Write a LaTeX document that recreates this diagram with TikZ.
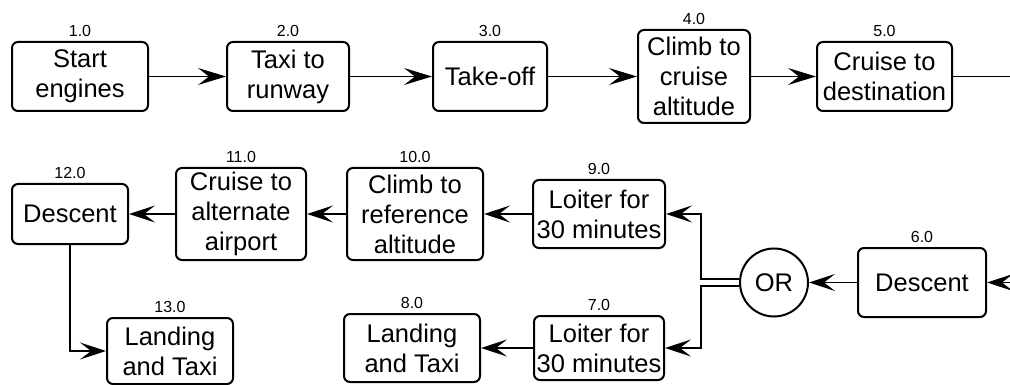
\documentclass[tikz,border=0pt]{standalone}
\usepackage{fontspec}
\setmainfont{Liberation Sans}
\usetikzlibrary{arrows.meta}

\begin{document}
\begin{tikzpicture}[x=1pt,y=-1pt,
  task/.style={shape=rectangle, rounded corners=6pt, draw, line width=2pt, align=center, inner sep=0pt, font=\fontsize{25.5}{30}\selectfont},
  num/.style={font=\fontsize{16}{18}\selectfont, inner sep=0pt, label distance=4pt},
  flow/.style={-{Stealth[length=28pt,width=17pt,inset=11pt]}, line width=1.6pt},
  alt/.style={-{Stealth[length=26pt,width=17pt,inset=11pt]}, line width=1.3pt}]
\useasboundingbox (0,0) rectangle (1010,385);

% outbound leg
\node [task, minimum width=136pt, minimum height=69pt, label={[num]above:1.0}] (start) at (80,76.5) {Start\\engines};
\node [task, minimum width=122pt, minimum height=69pt, label={[num]above:2.0}] (taxi) at (288,76.5) {Taxi to\\runway};
\node [task, minimum width=114pt, minimum height=69pt, label={[num]above:3.0}] (takeoff) at (490,76.5) {Take-off};
\node [task, minimum width=112pt, minimum height=93pt, label={[num]above:4.0}] (climb) at (694,76.5) {Climb to\\cruise\\altitude};
\node [task, minimum width=135pt, minimum height=69pt, label={[num]above:5.0}] (cruise) at (884.5,76.5) {Cruise to\\destination};
\coordinate (exit) at (1010,76.5);

% reserve leg
\node [task, minimum width=128pt, minimum height=69pt, label={[num]above:6.0}] (descent) at (922,282.5) {Descent};
\node [shape=circle, draw, line width=2pt, minimum size=68pt, inner sep=0pt, font=\fontsize{25.5}{30}\selectfont] (or) at (774,282.5) {OR};
\node [task, minimum width=132pt, minimum height=68pt, label={[num]above:9.0}] (loiterA) at (599,214) {Loiter for\\30 minutes};
\node [task, minimum width=130pt, minimum height=64pt, label={[num]above:7.0}] (loiterB) at (599,348) {Loiter for\\30 minutes};
\node [task, minimum width=136pt, minimum height=68pt, label={[num]above:8.0}] (land) at (412,348) {Landing\\and Taxi};
\node [task, minimum width=136pt, minimum height=92pt, label={[num]above:10.0}] (climbref) at (415,214) {Climb to\\reference\\altitude};
\node [task, minimum width=130pt, minimum height=92pt, label={[num]above:11.0}] (cruisealt) at (241,214) {Cruise to\\alternate\\airport};
\node [task, minimum width=116pt, minimum height=60pt, label={[num]above:12.0}] (descalt) at (70,214) {Descent};
\node [task, minimum width=126pt, minimum height=66pt, label={[num]above:13.0}] (landalt) at (170,351) {Landing\\and Taxi};
\coordinate (entry) at (1010,282.5);

\draw[flow] (start) -- (taxi);
\draw[flow] (taxi) -- (takeoff);
\draw[flow] (takeoff) -- (climb);
\draw[flow] (climb) -- (cruise);
\draw[line width=1.6pt] (cruise) -- (exit);
\draw[alt] (entry) -- (descent);
\draw[alt] (descent) -- (or);
\draw[alt] ([yshift=3.5pt]or.west) -- ++(-38,0) |- (loiterA);
\draw[alt] ([yshift=-3.5pt]or.west) -- ++(-38,0) |- (loiterB);
\draw[alt] (loiterA) -- (climbref);
\draw[alt] (climbref) -- (cruisealt);
\draw[alt] (cruisealt) -- (descalt);
\draw[alt] (loiterB) -- (land);
\draw[alt] (descalt) |- (landalt);
\end{tikzpicture}
\end{document}
